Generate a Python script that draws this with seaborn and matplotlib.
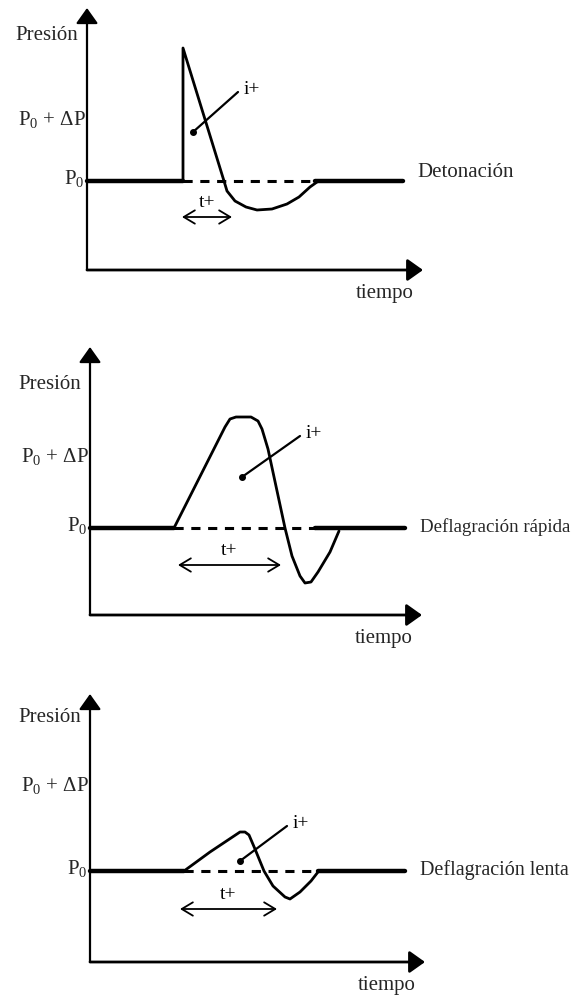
import matplotlib
matplotlib.use("Agg")
import matplotlib.pyplot as plt
import seaborn as sns
import numpy as np

sns.set_theme(style="white")
plt.rcParams["font.family"] = ["Liberation Serif", "DejaVu Serif"]
plt.rcParams["mathtext.fontset"] = "custom"
plt.rcParams["mathtext.rm"] = "Liberation Serif"
plt.rcParams["mathtext.it"] = "Liberation Serif"

# ---------------- data (time t, pressure p relative to P0) ----------------
titles = ["Detonación", "Deflagración rápida", "Deflagración lenta"]

# panel 1 : detonation
det_t = [96, 96, 137, 140, 148, 159, 170, 185, 200, 212, 223, 230]
det_p = [0, 133, 0, -10, -20, -26, -29, -28, -23, -16, -6, -1]
# panel 2 : fast deflagration
fast_t = [84, 135, 140, 146, 161, 168, 172, 178, 195, 202, 210, 215, 221, 228, 240, 249]
fast_p = [0, 101, 109, 111, 111, 107, 99, 79, 0, -28, -48, -55, -54, -44, -24, -3]
# panel 3 : slow deflagration
slow_t = [94, 120, 150, 155, 159, 165, 174, 183, 195, 200, 210, 221, 228]
slow_p = [0, 19, 39, 39, 36, 22, 0, -15, -26, -28, -21, -10, -1]

curves_t = [det_t, fast_t, slow_t]
curves_p = [det_p, fast_p, slow_p]

# baseline segments: solid start end, dashed end, solid end
base_solid1 = [96, 84, 94]
base_dash_end = [228, 225, 228]
base_solid2_end = [316, 315, 315]

# impulse (i+) leader: dot (t,p) -> end (t,p)
imp_dot_t = [106, 152, 150]
imp_dot_p = [49, 51, 10]
imp_end_t = [151, 210, 197]
imp_end_p = [89, 92, 45]

# positive phase duration t+ arrows
tplus_start = [95, 88, 90]
tplus_end = [145, 191, 187]
tplus_p = [-36, -37, -38]

# axes extents
xaxis_p = [-89, -87, -91]
yaxis_top = [173, 181, 177]
xaxis_end = [336, 332, 335]

# label positions
presion_p = [146, 144, 154]
dp_p = [62, 72, 87]

# ---------------- layout (pixels) ----------------
W, H = 582, 1004
strips = [(0, 335), (335, 670), (670, 1004)]
axis_x = [87, 90, 90]
base_y = [182, 529, 872]
title_fs = [15, 13.6, 14.5]

fig = plt.figure(figsize=(W / 100, H / 100), dpi=100)
fig.patch.set_facecolor("white")

fs = 15
head = "-|>,head_length=0.45,head_width=0.32"
for i in range(3):
    top, bot = strips[i]
    ax = fig.add_axes([0, 1 - bot / H, 1, (bot - top) / H])
    ax.set_xlim(-axis_x[i], W - axis_x[i])
    ax.set_ylim(base_y[i] - bot, base_y[i] - top)
    ax.axis("off")

    # axes with arrows
    ax.annotate("", xy=(0, yaxis_top[i]), xytext=(0, xaxis_p[i]),
                arrowprops=dict(arrowstyle=head, lw=1.6, color="black",
                                mutation_scale=21, shrinkA=0, shrinkB=0))
    ax.annotate("", xy=(xaxis_end[i], xaxis_p[i]), xytext=(0, xaxis_p[i]),
                arrowprops=dict(arrowstyle=head, lw=2.0, color="black",
                                mutation_scale=21, shrinkA=0, shrinkB=0))

    # baseline P0
    sns.lineplot(x=[0, base_solid1[i]], y=[0, 0], ax=ax, color="black", lw=3.2,
                 sort=False, estimator=None)
    sns.lineplot(x=[base_solid1[i], base_dash_end[i]], y=[0, 0], ax=ax, color="black",
                 lw=2.2, sort=False, estimator=None, linestyle=(0, (3, 2.5)))
    sns.lineplot(x=[base_dash_end[i], base_solid2_end[i]], y=[0, 0], ax=ax,
                 color="black", lw=3.2, sort=False, estimator=None)

    # pressure curve
    sns.lineplot(x=curves_t[i], y=curves_p[i], ax=ax, color="black", lw=2.0,
                 sort=False, estimator=None)

    # impulse leader
    sns.lineplot(x=[imp_dot_t[i], imp_end_t[i]], y=[imp_dot_p[i], imp_end_p[i]], ax=ax,
                 color="black", lw=1.6, sort=False, estimator=None)
    ax.plot([imp_dot_t[i]], [imp_dot_p[i]], "o", color="black", ms=4)
    ax.text(imp_end_t[i] + 6, imp_end_p[i] + 3, "i+", fontsize=fs - 1, ha="left",
            va="center", color="black")

    # t+ arrow
    ax.annotate("", xy=(tplus_end[i], tplus_p[i]), xytext=(tplus_start[i], tplus_p[i]),
                arrowprops=dict(arrowstyle="<->,head_length=0.5,head_width=0.3", lw=1.3,
                                color="black", mutation_scale=16, shrinkA=0, shrinkB=0))
    ax.text((tplus_start[i] + tplus_end[i]) / 2, tplus_p[i] + 15, "t+", fontsize=fs - 1,
            ha="center", va="center", color="black")

    # texts
    ax.text(-9, presion_p[i], "Presión", fontsize=fs, ha="right", va="center")
    ax.text(-1, dp_p[i], r"P$_\mathrm{0}$ + ΔP", fontsize=fs, ha="right", va="center")
    ax.text(-3, 3, r"P$_\mathrm{0}$", fontsize=fs, ha="right", va="center")
    ax.text(330, 9 if i == 0 else 2, titles[i], fontsize=title_fs[i], ha="left",
            va="center")
    ax.text(xaxis_end[i] - 38, xaxis_p[i] - 23, "tiempo", fontsize=fs, ha="center",
            va="center")

fig.savefig("out.png", dpi=100, facecolor="white")
